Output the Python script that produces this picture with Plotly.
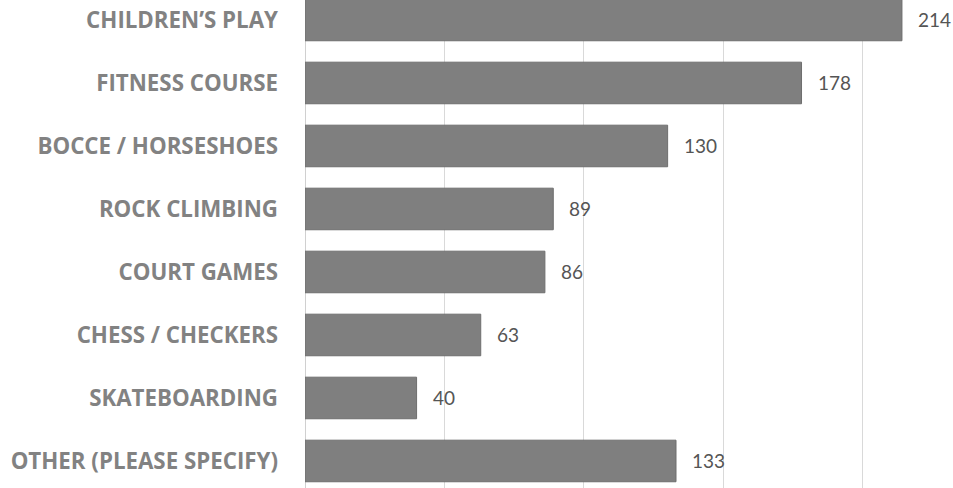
import plotly.graph_objects as go

categories = ["CHILDREN’S PLAY", "FITNESS COURSE", "BOCCE / HORSESHOES", "ROCK CLIMBING",
              "COURT GAMES", "CHESS / CHECKERS", "SKATEBOARDING", "OTHER (PLEASE SPECIFY)"]
values = [214, 178, 130, 89, 86, 63, 40, 133]
grid_ticks = [50, 100, 150, 200, 250]

idx = list(range(len(categories)))

fig = go.Figure()
fig.add_trace(go.Bar(
    x=values, y=idx, orientation="h",
    marker=dict(color="#7f7f7f", line=dict(color="#6e6e6e", width=1)),
    width=0.66,
    hoverinfo="skip",
))

for i, v in zip(idx, values):
    fig.add_annotation(x=v, y=i, text=str(v), showarrow=False, xanchor="left",
                       xshift=14, yshift=0,
                       font=dict(family="Lato", size=19, color="#555555"))

fig.update_layout(
    width=953, height=488,
    margin=dict(l=305, r=0, t=0, b=0),
    paper_bgcolor="white", plot_bgcolor="white",
    showlegend=False,
    bargap=0.33,
)
fig.update_xaxes(
    range=[0, 232.3], tickvals=grid_ticks, showticklabels=False,
    showgrid=True, gridcolor="#d9d9d9", gridwidth=1,
    zeroline=True, zerolinecolor="#d0d0d0", zerolinewidth=1,
    showline=False,
)
fig.update_yaxes(
    range=[7.429, -0.317], tickvals=idx, ticktext=categories,
    tickfont=dict(family="Open Sans", size=22.3, color="#828282", weight="bold"),
    showgrid=False, zeroline=False, showline=False,
    ticklabelstandoff=26, ticklabeloverflow="allow",
)

fig.write_html("out.html", config={"displayModeBar": False},
               post_script="document.body.style.margin='0px';")
